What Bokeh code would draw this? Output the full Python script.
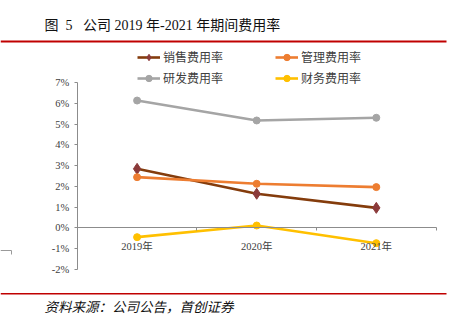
from bokeh.plotting import figure
from bokeh.models import (Range1d, LinearAxis, FixedTicker, PrintfTickFormatter,
                          Legend, LegendItem, Label)
from bokeh.embed import file_html
from bokeh.resources import INLINE

# ---- data ----
categories = ["2019年", "2020年", "2021年"]
sales_rate = [2.84, 1.64, 0.96]      # 销售费用率 (%)
admin_rate = [2.44, 2.12, 1.96]      # 管理费用率 (%)
rd_rate = [6.13, 5.17, 5.30]         # 研发费用率 (%)
fin_rate = [-0.45, 0.11, -0.74]      # 财务费用率 (%)
y_ticks = [-2, -1, 0, 1, 2, 3, 4, 5, 6, 7]
series_names = ["销售费用率", "管理费用率", "研发费用率", "财务费用率"]
title_text = "图\u00a0\u00a05\u00a0\u00a0\u00a0公司\u00a02019\u00a0年-2021\u00a0年期间费用率"
source_text = "资料来源：公司公告，首创证券"

# ---- layout helpers (pixel -> data) ----
W, H = 461, 321
X0_PX, XSCALE = 76.8, 119.6
Y0_PX, YSCALE = 227.3, 20.76
def dx(px): return (px - X0_PX) / XSCALE
def dy(py): return (Y0_PX - py) / YSCALE

CJK = "Noto Sans CJK SC"
SERIF_MIX = "'Liberation Serif', 'Noto Sans CJK SC'"

p = figure(width=W, height=H, output_backend="svg", toolbar_location=None,
           x_range=Range1d(dx(0), dx(W)), y_range=Range1d(dy(H), dy(0)),
           x_axis_type=None, y_axis_type=None, min_border=0,
           background_fill_color="white", border_fill_color="white")
p.outline_line_color = None
p.xgrid.visible = False
p.ygrid.visible = False

n = len(categories)
xs = [i + 0.5 for i in range(n)]

# y axis
yax = LinearAxis(fixed_location=0, bounds=(min(y_ticks), max(y_ticks)),
                 ticker=FixedTicker(ticks=y_ticks),
                 formatter=PrintfTickFormatter(format="%d%%"))
yax.axis_line_color = "#8c8c8c"
yax.major_tick_line_color = "#8c8c8c"
yax.major_tick_out = 3
yax.major_tick_in = 0
yax.minor_tick_out = 0
yax.minor_tick_in = 0
yax.major_label_standoff = 5
yax.major_label_text_font = "Liberation Serif"
yax.major_label_text_font_size = "10.5px"
yax.major_label_text_color = "#404040"
p.add_layout(yax, "left")

# category axis at y = 0: labels at centres, tick marks at boundaries
xax = LinearAxis(fixed_location=0, bounds=(0, n),
                 ticker=FixedTicker(ticks=xs, minor_ticks=list(range(n + 1))),
                 major_label_overrides={x: c for x, c in zip(xs, categories)})
xax.axis_line_color = "#8c8c8c"
xax.major_tick_line_color = None
xax.major_tick_out = 0
xax.major_tick_in = 0
xax.minor_tick_line_color = "#8c8c8c"
xax.minor_tick_out = 3
xax.minor_tick_in = 0
xax.major_label_standoff = 10
xax.major_label_text_font = SERIF_MIX
xax.major_label_text_font_size = "10.5px"
xax.major_label_text_color = "#404040"
p.add_layout(xax, "below")

# series
r_sales_l = p.line(xs, sales_rate, line_color="#843C0C", line_width=2.6)
r_sales_m = p.scatter(xs, sales_rate, marker="diamond", size=11, fill_color="#8B3A3A",
                      line_color="#8B3A3A")
r_adm_l = p.line(xs, admin_rate, line_color="#ED7D31", line_width=2.6)
r_adm_m = p.scatter(xs, admin_rate, marker="circle", size=7, fill_color="#ED7D31",
                    line_color="#ED7D31")
r_rd_l = p.line(xs, rd_rate, line_color="#A5A5A5", line_width=2.6)
r_rd_m = p.scatter(xs, rd_rate, marker="circle", size=7, fill_color="#A5A5A5",
                   line_color="#A5A5A5")
r_fin_l = p.line(xs, fin_rate, line_color="#FFC000", line_width=2.6)
r_fin_m = p.scatter(xs, fin_rate, marker="circle", size=7, fill_color="#FFC000",
                    line_color="#FFC000")

# legend fills column-major: order so rows read 销售/管理, 研发/财务
legend = Legend(items=[
    LegendItem(label=series_names[0], renderers=[r_sales_l, r_sales_m]),
    LegendItem(label=series_names[2], renderers=[r_rd_l, r_rd_m]),
    LegendItem(label=series_names[1], renderers=[r_adm_l, r_adm_m]),
    LegendItem(label=series_names[3], renderers=[r_fin_l, r_fin_m]),
], ncols=2, location=(137, H - 86))
legend.glyph_width = 23
legend.glyph_height = 16
legend.label_height = 16
legend.label_width = 108
legend.label_standoff = 3
legend.spacing = 4
legend.padding = 0
legend.margin = 0
legend.border_line_color = None
legend.background_fill_alpha = 0
legend.label_text_font = CJK
legend.label_text_font_size = "12px"
legend.label_text_color = "#404040"
p.add_layout(legend, "center")

# title, rules, source
p.add_layout(Label(x=dx(44), y=dy(25), text=title_text, text_font=SERIF_MIX,
                   text_font_size="14px", text_color="#111111", text_baseline="middle"))
p.segment(x0=[dx(0)], y0=[dy(41)], x1=[dx(446)], y1=[dy(41)],
          line_color="#C00000", line_width=2)
p.segment(x0=[dx(0)], y0=[dy(293.3)], x1=[dx(446)], y1=[dy(293.3)],
          line_color="#C00000", line_width=1.5)
p.segment(x0=[dx(0), dx(11)], y0=[dy(250), dy(250)], x1=[dx(11), dx(11)],
          y1=[dy(250), dy(254)], line_color="#9a9a9a", line_width=1)
p.add_layout(Label(x=dx(44), y=dy(305), text=source_text, text_font=CJK,
                   text_font_style="italic", text_font_size="13.5px",
                   text_color="#111111", text_baseline="middle"))

open("out.html", "w").write(file_html(p, INLINE))
